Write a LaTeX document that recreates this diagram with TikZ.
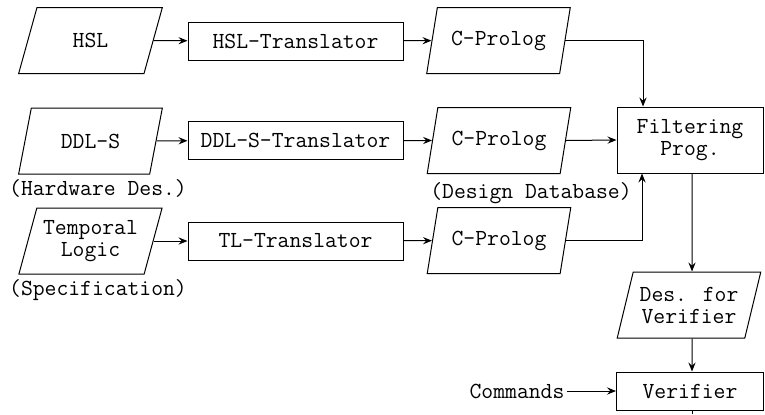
\documentclass[tikz,border=0pt]{standalone}
\usepackage{fontspec}
\usetikzlibrary{arrows.meta,shapes.geometric}

\tikzset{
  dataio/.style={draw, trapezium, trapezium left angle=70, trapezium right angle=110,
    trapezium stretches=true, minimum width=72pt, minimum height=33pt, inner sep=1pt,
    align=center},
  procbox/.style={draw, rectangle, minimum width=107.5pt, minimum height=19pt, inner sep=1pt},
  flow/.style={-{Stealth[length=4.5pt,width=3.6pt,inset=1.6pt]}},
}

\begin{document}
\begin{tikzpicture}[x=0.5pt,y=0.5pt,line width=0.5pt,font=\ttfamily\fontsize{11.5}{11}\selectfont]
\useasboundingbox (0,0) rectangle (765,-414);
\node[dataio] (hsl) at (90.5,-40.5) {HSL};
\node[dataio] (dds) at (90.5,-141) {DDL-S};
\node[dataio] (tl) at (90.5,-241) {Temporal\\Logic};
\node (hwdes) at (98,-188) {(Hardware Des.)};
\node (spec) at (98,-290) {(Specification)};
\node[procbox] (hsltr) at (295.5,-41) {HSL-Translator};
\node[procbox] (ddstr) at (295.5,-140.5) {DDL-S-Translator};
\node[procbox] (tltr) at (295.5,-241) {TL-Translator};
\node[dataio] (cp1) at (498.5,-40.5) {C-Prolog};
\node[dataio] (cp2) at (499,-140.5) {C-Prolog};
\node[dataio] (cp3) at (499,-240.5) {C-Prolog};
\node (dbase) at (531,-193) {(Design Database)};
\node[draw, minimum width=73pt, minimum height=33pt, align=center] (filt) at (690,-140) {Filtering\\Prog.};
\node[dataio] (des) at (689,-305) {Des. for\\Verifier};
\node[procbox, minimum width=73.5pt] (ver) at (690,-391) {Verifier};
\node[inner sep=1pt] (cmd) at (517,-391) {Commands};
\coordinate (out) at (692,-414);

\draw[flow] (hsl) -- (hsltr);
\draw[flow] (dds) -- (ddstr);
\draw[flow] (tl) -- (tltr);
\draw[flow] (hsltr) -- (cp1);
\draw[flow] (ddstr) -- (cp2);
\draw[flow] (tltr) -- (cp3);
\draw[flow] (cp1.east) -| ([xshift=-23.5pt]filt.north);
\draw[flow] (cp2.east) -- (filt.west);
\draw[flow] (cp3.east) -| ([xshift=-24pt]filt.south);
\draw[flow] ([xshift=1pt]filt.south) -- ([xshift=1.5pt]des.north);
\draw[flow] ([xshift=1.5pt]des.south) -- ([xshift=1pt]ver.north);
\draw[flow] (cmd) -- (ver);
\draw ([xshift=1pt]ver.south) -- (out);
\end{tikzpicture}
\end{document}
